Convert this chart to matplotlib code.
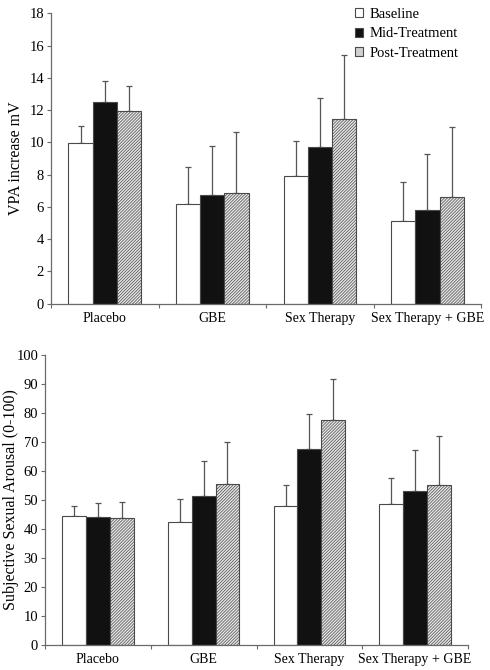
import matplotlib
matplotlib.use("Agg")
import matplotlib.pyplot as plt
import numpy as np
from matplotlib.patches import Patch

plt.rcParams['font.family'] = ['Liberation Serif', 'DejaVu Serif']
plt.rcParams['hatch.color'] = '#a8a8a8'
plt.rcParams['hatch.linewidth'] = 0.5

groups = ['Placebo', 'GBE', 'Sex Therapy', 'Sex Therapy + GBE']
phases = ['Baseline', 'Mid-Treatment', 'Post-Treatment']

# VPA increase (mV): means and upper error bar tops
vpa_base = [9.95, 6.15, 7.9, 5.1]
vpa_mid = [12.5, 6.75, 9.7, 5.8]
vpa_post = [11.95, 6.85, 11.45, 6.6]
vpa_base_top = [11.0, 8.45, 10.1, 7.55]
vpa_mid_top = [13.8, 9.8, 12.75, 9.25]
vpa_post_top = [13.5, 10.65, 15.4, 10.95]

# Subjective sexual arousal (0-100)
sa_base = [44.5, 42.5, 47.8, 48.7]
sa_mid = [44.1, 51.2, 67.7, 52.9]
sa_post = [43.8, 55.5, 77.7, 55.0]
sa_base_top = [48.0, 50.4, 55.2, 57.7]
sa_mid_top = [48.9, 63.5, 79.7, 67.3]
sa_post_top = [49.4, 70.0, 91.9, 72.0]

edge = '#4a4a4a'
spine = '#6a6a6a'
styles = [dict(color='white', hatch=None),
          dict(color='#111111', hatch=None),
          dict(color='#e6e6e6', hatch='///////////')]


def draw(ax, means, tops, ymax, step, ylabel):
    x = np.arange(len(groups))
    w = 0.225
    for i, (m, t, st) in enumerate(zip(means, tops, styles)):
        xs = x + (i - 1) * w
        ax.bar(xs, m, w, color=st['color'], edgecolor=edge, linewidth=0.8,
               hatch=st['hatch'], zorder=2)
        err = np.array(t) - np.array(m)
        ax.errorbar(xs, m, yerr=[np.zeros(len(m)), err], fmt='none',
                    ecolor='#555555', elinewidth=0.9, capsize=2, capthick=0.9,
                    zorder=1)
    ax.set_xlim(-0.5, len(groups) - 0.5)
    ax.set_ylim(0, ymax)
    ax.set_yticks(np.arange(0, ymax + 1, step))
    ax.set_xticks(x)
    ax.set_xticklabels(groups, fontsize=10)
    ax.set_xticks(np.arange(-0.5, len(groups)), minor=True)
    ax.tick_params(axis='x', which='major', length=0, pad=6)
    ax.tick_params(axis='x', which='minor', length=3, color=spine, width=0.8)
    ax.tick_params(axis='y', length=3, color=spine, width=0.8, labelsize=10.5, pad=2)
    ax.set_ylabel(ylabel, fontsize=11.5)
    for s in ['top', 'right']:
        ax.spines[s].set_visible(False)
    for s in ['left', 'bottom']:
        ax.spines[s].set_color(spine)
        ax.spines[s].set_linewidth(0.9)


fig = plt.figure(figsize=(4.9, 6.7), dpi=100)
ax1 = fig.add_axes([0.104, 0.547, 0.878, 0.433])
ax2 = fig.add_axes([0.092, 0.038, 0.863, 0.432])

draw(ax1, [vpa_base, vpa_mid, vpa_post], [vpa_base_top, vpa_mid_top, vpa_post_top],
     18, 2, 'VPA increase mV')
draw(ax2, [sa_base, sa_mid, sa_post], [sa_base_top, sa_mid_top, sa_post_top],
     100, 10, 'Subjective Sexual Arousal (0-100)')
ax1.yaxis.set_label_coords(-0.063, 0.5)
ax2.yaxis.set_label_coords(-0.062, 0.5)

handles = [Patch(facecolor='white', edgecolor=edge, linewidth=0.8),
           Patch(facecolor='#111111', edgecolor=edge, linewidth=0.8),
           Patch(facecolor='#d0d0d0', edgecolor=edge, linewidth=0.8)]
fig.legend(handles, phases, loc='upper left', bbox_to_anchor=(0.712, 0.997),
           frameon=False, fontsize=10.5, handlelength=0.6, handleheight=0.6,
           handletextpad=0.4, labelspacing=0.45, borderaxespad=0)

fig.savefig('out.png', dpi=100)
